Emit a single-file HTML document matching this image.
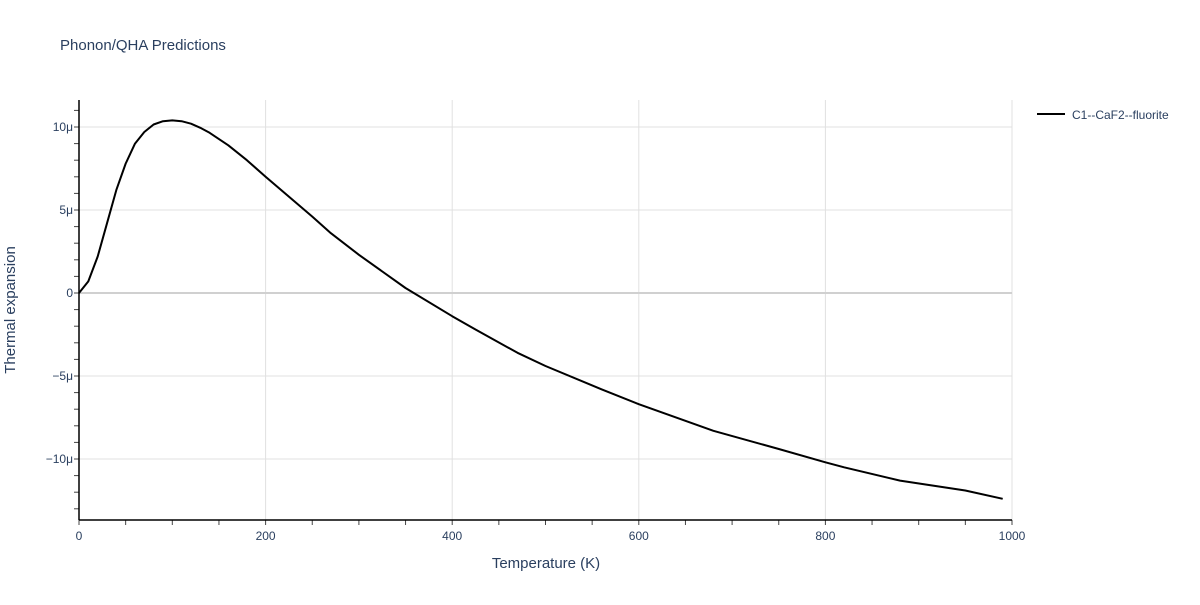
<!DOCTYPE html>
<html><head><meta charset="utf-8"><style>
body{margin:0;background:#fff;font-family:"Liberation Sans",sans-serif;}
svg text{font-family:"Liberation Sans",sans-serif;fill:#2a3f5f;}
</style></head><body>
<svg id="chart" width="1200" height="600" xmlns="http://www.w3.org/2000/svg">
<rect width="1200" height="600" fill="#fff"/>
<text x="60" y="50" font-size="15">Phonon/QHA Predictions</text>
<g id="grid"></g><g id="axes"></g><g id="series"></g>
<text x="546" y="568" font-size="15" text-anchor="middle">Temperature (K)</text>
<text transform="translate(15,310) rotate(-90)" font-size="15" text-anchor="middle">Thermal expansion</text>
<g>
<line x1="1037" y1="114" x2="1065" y2="114" stroke="#000" stroke-width="2"/>
<text x="1072" y="119" font-size="12">C1--CaF2--fluorite</text>
</g>
</svg>
<script>
const temps=[0,10,20,30,40,50,60,70,80,90,100,110,120,130,140,160,180,200,250,270,300,350,400,425,470,500,560,600,680,750,800,820,880,950,990];
const alpha=[0,0.7,2.2,4.2,6.2,7.8,9.0,9.7,10.15,10.35,10.4,10.35,10.2,9.95,9.65,8.9,8.0,7.0,4.6,3.6,2.3,0.3,-1.4,-2.2,-3.6,-4.4,-5.8,-6.7,-8.3,-9.4,-10.2,-10.5,-11.3,-11.9,-12.4];
const xTicks=[0,200,400,600,800,1000];
const yTicks=[-10,-5,0,5,10];
const yTickLabels=["−10μ","−5μ","0","5μ","10μ"];
const NS="http://www.w3.org/2000/svg";
const X0=79,X1=1012,YT=100,YB=520;
const xs=t=>X0+(t/1000)*(X1-X0);
const ys=v=>293-v*16.6;
function mk(tag,attrs,parent){const e=document.createElementNS(NS,tag);for(const k in attrs)e.setAttribute(k,attrs[k]);parent.appendChild(e);return e;}
const grid=document.getElementById('grid'),axes=document.getElementById('axes'),series=document.getElementById('series');
xTicks.forEach(t=>{if(t>0){const l=mk('line',{x1:xs(t),x2:xs(t),y1:YT,y2:YB,stroke:'#e0e0e0','stroke-width':1},grid);

}
const tx=mk('text',{x:xs(t),y:540,'font-size':12,'text-anchor':'middle'},axes);tx.textContent=t;

});
for(let t=0;t<=1000;t+=50){mk('line',{x1:xs(t),x2:xs(t),y1:YB,y2:YB+5,stroke:'#444','stroke-width':1},axes);}
yTicks.forEach((v,i)=>{const l=mk('line',{x1:X0,x2:X1,y1:ys(v),y2:ys(v),stroke:v===0?'#d0d0d0':'#e0e0e0','stroke-width':v===0?2:1},grid);


const tx=mk('text',{x:X0-6,y:ys(v)+4,'font-size':12,'text-anchor':'end'},axes);tx.textContent=yTickLabels[i];

});
for(let v=-13;v<=11;v++){mk('line',{x1:X0-5,x2:X0,y1:ys(v),y2:ys(v),stroke:'#444','stroke-width':1},axes);}
const xa=mk('line',{x1:X0,x2:X1,y1:YB,y2:YB,stroke:'#000','stroke-width':1.5},axes);


const ya=mk('line',{x1:X0,x2:X0,y1:YT,y2:YB,stroke:'#000','stroke-width':1.5},axes);


const p=mk('path',{d:temps.map((t,i)=>(i?'L':'M')+xs(t).toFixed(1)+','+ys(alpha[i]).toFixed(1)).join(''),fill:'none',stroke:'#000','stroke-width':2,'stroke-linejoin':'round'},series);


</script>
</body></html>
